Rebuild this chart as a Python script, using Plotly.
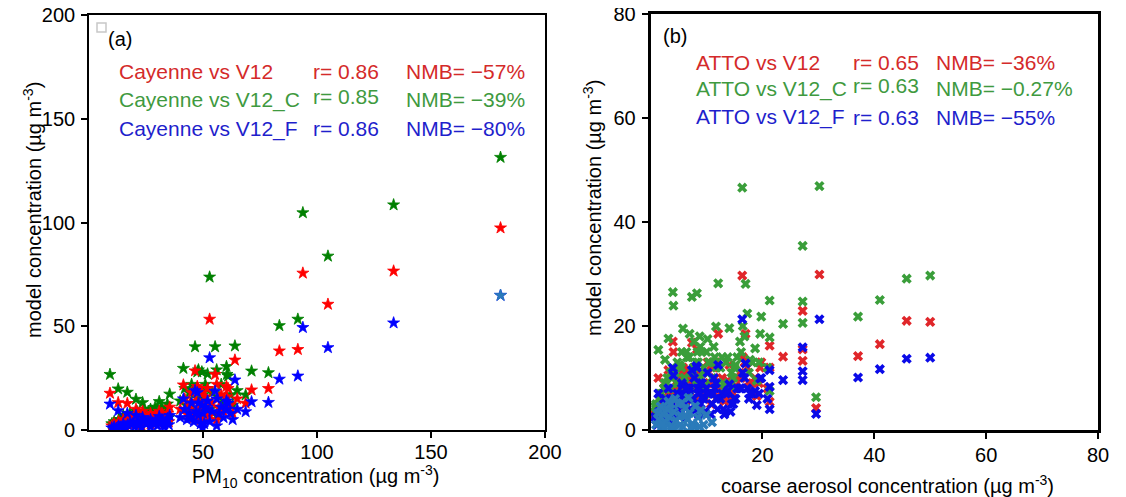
import plotly.graph_objects as go

# ---------------- Panel (a): Cayenne PM10 vs model ----------------
obs_a = [180.5, 133.6, 104.8, 93.8, 91.6, 83.5, 78.7, 71.3, 68.7, 64.0,
         52.9, 55.3, 46.5, 60.3, 60.5, 41.4, 48.0, 49.5, 9.2, 12.8,
         16.8, 20.6, 23.5, 30.8, 35.4, 34.4,
         10, 11, 13, 14, 15, 17, 18, 19, 21, 22, 24, 25, 26, 27, 28, 29, 31, 32, 33, 34, 35,
         12, 16, 20, 23, 27, 30, 33,
         40, 42, 43, 44, 45, 46, 47, 48, 49, 50, 50.5, 51, 52, 53, 54, 56, 57, 58, 59, 61,
         62, 63, 65, 49.8, 56, 44.5, 47.5, 51.5]
v12_a = [97.4, 76.6, 60.6, 75.6, 38.8, 38.1, 20.0, 19.3, 12.9, 33.7,
         53.4, 26.8, 28.5, 21.0, 16.0, 21.7, 20.0, 18.0, 17.7, 13.2,
         12.8, 10.0, 9.0, 9.0, 11.0, 8.0,
         2, 3, 4, 3, 5, 4, 6, 5, 6, 4, 7, 5, 6, 8, 6, 7, 6, 8, 5, 7, 4,
         1.5, 2, 3, 2.5, 3, 4, 3,
         10, 15, 8, 12, 18, 6, 14, 10, 5, 12, 8, 16, 20, 7, 13, 22, 11, 17, 9, 20,
         12, 8, 15, 4, 5, 9, 21, 14]
v12c_a = [131.4, 108.5, 83.8, 104.7, 53.4, 50.3, 27.6, 28.4, 16.9, 40.5,
          73.7, 40.1, 40.1, 30.6, 26.8, 29.7, 29.0, 28.0, 26.8, 19.8,
          18.2, 14.8, 13.2, 13.7, 17.3, 12.5,
          3, 4, 5, 5, 7, 6, 8, 7, 9, 7, 9, 8, 9, 10, 9, 11, 9, 11, 8, 10, 6,
          2.5, 3, 4, 4, 5, 6, 5,
          14, 20, 12, 18, 22, 9, 20, 15, 8, 17, 11, 22, 27, 10, 18, 29, 16, 22, 13, 26,
          17, 12, 19, 6, 7, 13, 28, 20]
v12f_a = [64.9, 51.6, 39.7, 49.4, 26.0, 24.5, 13.3, 13.6, 8.8, 24.1,
          34.8, 18.7, 19.0, 14.0, 10.0, 15.0, 13.0, 12.0, 12.5, 9.3,
          8.0, 7.0, 6.0, 6.5, 7.0, 5.5,
          1, 1.5, 2, 1.5, 3, 2.5, 3.5, 3, 4, 2.5, 4.5, 3, 4, 5, 3.5, 4, 3.5, 5, 3, 4.5, 2.5,
          0.8, 1, 1.5, 1.2, 1.5, 2, 1.5,
          6, 10, 5, 8, 13, 4, 9, 7, 3, 8, 3, 11, 14, 4, 9, 15, 8, 11, 6, 13,
          8, 5, 10, 1, 2, 6, 18, 10]
extra_a_x = [180.5]
extra_a_y = [64.9]

# ---------------- Panel (b): ATTO coarse aerosol vs model ----------------
obs_b = [16.4, 30.2, 27.2, 45.8, 50.0, 41.0, 37.1, 23.7, 27.2, 27.2,
         29.6, 21.3, 21.3, 21.3, 19.8, 17.3, 16.5,
         4.0, 4.1, 7.4, 8.3, 12.1, 17.0, 11.7, 14.1, 5.8, 7.0, 8.8, 3.2,
         19.6, 16.0, 18.7, 1.4, 2.6, 2.4, 10.0, 8.2, 17.6, 19.0,
         1.0, 1.5, 2.0, 2.5, 3.0, 3.5, 4.5, 5.0, 5.5, 6.0, 6.5, 7.5, 8.0, 8.5, 9.0,
         9.5, 10.5, 11.0, 11.5, 12.5, 13.0, 13.5, 14.5, 15.0, 15.5,
         1.2, 2.2, 3.3, 4.3, 5.3, 6.3, 7.3, 8.6, 9.7, 10.8, 12.0, 13.2, 14.3,
         2.8, 3.8, 4.8, 5.6, 6.8, 7.8, 9.2, 10.2, 11.3, 12.8, 16.8, 18.2,
         0.8, 1.8, 2.9, 3.6, 4.7, 5.2, 6.1, 6.9, 7.7, 8.4, 9.4, 10.4, 11.8, 13.8, 15.2,
         16.2, 17.8, 1.6, 3.9, 6.4, 8.9, 11.2, 14.8, 19.4, 20.9]
v12_b = [29.7, 29.9, 22.9, 21.0, 20.8, 16.5, 14.2, 14.1, 15.5, 13.3,
         4.2, 16.2, 12.0, 5.4, 13.0, 12.0, 14.0,
         17.0, 15.0, 16.8, 15.5, 18.5, 18.5, 13.0, 12.5, 12.0, 11.5, 11.0, 11.5,
         12.0, 11.0, 10.0, 10.0, 9.0, 8.0, 11.5, 9.0, 8.3, 6.5,
         3, 5, 4, 6, 7, 5, 8, 6, 9, 7, 10, 8, 6, 9, 7,
         8, 9, 7, 10, 8, 6, 9, 7, 8, 10,
         2, 3, 3.5, 4, 5, 4.5, 6, 5, 6, 5, 6.5, 5.5, 6,
         6, 7, 9.5, 11, 10.5, 12, 11, 13, 12, 10, 13, 9,
         3, 4, 6, 7.5, 6, 8.5, 7, 9.5, 8, 10, 7.5, 9, 8, 9.5, 8.5,
         10, 9, 5, 8, 10, 11, 9, 7, 9, 8]
v12c_b = [46.6, 46.9, 35.4, 29.1, 29.7, 25.0, 21.8, 20.4, 24.7, 20.6,
          6.3, 24.9, 17.8, 7.5, 21.8, 22.4, 20.0,
          26.5, 23.9, 25.6, 26.3, 28.2, 28.1, 19.9, 19.6, 19.5, 18.5, 18.0, 17.6,
          18.5, 17.0, 15.7, 15.4, 13.5, 8.0, 15.0, 13.0, 11.0, 9.5,
          5, 6, 7, 9, 10, 8, 11, 9, 12, 10, 14, 11, 9, 13, 10,
          12, 13, 10, 14, 12, 9, 13, 11, 12, 14,
          3, 4, 5, 6, 7, 6.5, 8, 7, 8.5, 7, 9, 8, 8.5,
          8, 10, 13, 15, 14, 17, 15, 17.5, 16, 14, 18, 13,
          4.5, 6, 9, 11, 9, 12.5, 10, 14, 12, 15, 11, 13, 12, 14, 12.5,
          15, 13.5, 7, 12, 15, 16, 13, 10, 13, 12]
v12f_b = [21.3, 21.3, 15.9, 13.7, 13.9, 11.7, 10.1, 9.6, 11.3, 9.6,
          3.1, 11.5, 8.3, 4.0, 10.0, 8.0, 11.0,
          11.9, 10.5, 11.5, 12.0, 12.5, 12.8, 9.0, 8.8, 8.5, 8.0, 8.0, 8.0,
          9.9, 8.0, 7.5, 7.0, 6.0, 5.0, 8.0, 12.3, 6.0, 4.8,
          2, 3.5, 3, 4, 5, 3.5, 6, 4, 7, 5, 8, 6, 4, 7, 5,
          6, 7, 5, 8, 6, 4, 7, 5, 6, 8,
          1, 1.5, 2, 2.5, 3, 2.5, 4, 3, 3.5, 3, 4, 3, 3.5,
          4, 5, 7, 9, 8, 10, 9, 11, 10, 7, 10, 7,
          2.5, 3, 4.5, 5.5, 4, 6.5, 5, 7.5, 6, 8, 6.5, 7, 6, 7.5, 6,
          8, 7, 3.5, 6, 8, 9, 7, 5, 7, 6]
extra_b_x = [1.0, 1.5, 2.0, 2.3, 2.7, 3.0, 3.4, 3.8, 4.2, 4.6, 5.0, 5.4, 5.8, 6.2,
             6.6, 7.0, 7.5, 8.0, 8.5, 9.0, 9.5, 10.0, 1.8, 3.2, 4.4, 5.6, 6.8, 2.5,
             4.0, 7.8, 11.0, 1.3, 2.1, 3.6, 5.2, 6.0, 7.2, 8.8]
extra_b_y = [1.0, 2.0, 0.5, 3.0, 1.5, 4.0, 2.5, 0.8, 3.5, 1.8, 5.0, 2.8, 0.6, 4.2,
             2.0, 3.3, 1.2, 4.6, 2.4, 3.8, 1.0, 2.9, 4.5, 5.5, 6.0, 5.2, 6.2, 0.3,
             0.4, 0.7, 1.5, 3.2, 1.2, 5.0, 0.9, 2.6, 0.4, 0.6]

C_RED_A, C_GRN_A, C_BLU_A = "#ff0000", "#008000", "#0000ff"
C_RED_B, C_GRN_B, C_BLU_B = "#e0262a", "#3a9e3a", "#0a0ae8"
C_STEEL = "#2b7bba"
T_RED, T_GRN, T_BLU = "#d42a2a", "#3f9a3f", "#1f1fcc"

# page body has an 8px margin; the figure fills the rest of the 1126x497 window
OFF = 8
W, H = 1126 - OFF, 497 - OFF
def px(x):
    return (x - OFF) / W
def py(y):
    return 1 - (y - OFF) / H

fig = go.Figure()
star = dict(symbol="star", size=9, line=dict(width=0.8))
fig.add_trace(go.Scatter(x=obs_a, y=v12c_a, mode="markers", marker=dict(color=C_GRN_A, **star), xaxis="x", yaxis="y"))
fig.add_trace(go.Scatter(x=obs_a, y=v12_a, mode="markers", marker=dict(color=C_RED_A, **star), xaxis="x", yaxis="y"))
fig.add_trace(go.Scatter(x=obs_a, y=v12f_a, mode="markers", marker=dict(color=C_BLU_A, **star), xaxis="x", yaxis="y"))
fig.add_trace(go.Scatter(x=extra_a_x, y=extra_a_y, mode="markers", marker=dict(color=C_STEEL, **star), xaxis="x", yaxis="y"))
for tr, c in zip(fig.data, [C_GRN_A, C_RED_A, C_BLU_A, C_STEEL]):
    tr.marker.line.color = c

xm = dict(symbol="x", size=9, line=dict(width=0))
fig.add_trace(go.Scatter(x=obs_b, y=v12_b, mode="markers", marker=dict(color=C_RED_B, **xm), xaxis="x2", yaxis="y2"))
fig.add_trace(go.Scatter(x=obs_b, y=v12c_b, mode="markers", marker=dict(color=C_GRN_B, **xm), xaxis="x2", yaxis="y2"))
fig.add_trace(go.Scatter(x=obs_b, y=v12f_b, mode="markers", marker=dict(color=C_BLU_B, **xm), xaxis="x2", yaxis="y2"))
fig.add_trace(go.Scatter(x=extra_b_x, y=extra_b_y, mode="markers", marker=dict(color=C_STEEL, **xm), xaxis="x2", yaxis="y2"))

FONT = "Liberation Sans, Arial, Helvetica, sans-serif"
tickfont = dict(family=FONT, size=20, color="black")

def axis(domain, rng, tickvals, lw, anchor, standoff):
    return dict(domain=domain, range=rng, tickvals=tickvals, showgrid=False, zeroline=False,
                showline=True, linecolor="black", linewidth=lw, mirror=True,
                ticks="outside", ticklen=6, tickwidth=1.5, tickcolor="black",
                tickfont=tickfont, anchor=anchor, fixedrange=True, automargin=False,
                ticklabelstandoff=standoff, ticklabeloverflow="allow")

fig.update_layout(
    width=W, height=H, margin=dict(l=0, r=0, t=0, b=0, pad=0), autosize=False,
    paper_bgcolor="white", plot_bgcolor="white", showlegend=False,
    xaxis=axis([px(89), px(545)], [0, 200], [50, 100, 150, 200], 1.7, "y", -3),
    yaxis=axis([py(430), py(15)], [0, 200], [0, 50, 100, 150, 200], 1.7, "x", 2),
    xaxis2=axis([px(650.5), px(1098)], [0, 80], [20, 40, 60, 80], 2.5, "y2", -1),
    yaxis2=axis([py(430), py(14)], [0, 80], [0, 20, 40, 60, 80], 2.5, "x2", 2),
)

ann = []
def add_text(text, x, y, color="black", size=20, xanchor="left", angle=0):
    ann.append(dict(text=text, x=px(x), y=py(y), xref="paper", yref="paper",
                    xanchor=xanchor, yanchor="middle", showarrow=False, textangle=angle,
                    font=dict(family=FONT, size=size, color=color)))

# axis titles
add_text("model concentration (µg m<sup>-3</sup>)", 32, 210, xanchor="center", angle=-90)
add_text("model concentration (µg m<sup>-3</sup>)", 592, 208, xanchor="center", angle=-90)
add_text("PM<sub>10</sub> concentration (µg m<sup>-3</sup>)", 316, 476, xanchor="center")
add_text("coarse aerosol concentration (µg m<sup>-3</sup>)", 887, 484, xanchor="center")

# panel (a) statistics
add_text("(a)", 106, 39)
rows_a = [("Cayenne vs V12", "r= 0.86", "NMB= −57%", T_RED, 71, 71),
          ("Cayenne vs V12_C", "r= 0.85", "NMB= −39%", T_GRN, 100, 96),
          ("Cayenne vs V12_F", "r= 0.86", "NMB= −80%", T_BLU, 129, 129)]
for lab, r, nmb, col, yl, yr in rows_a:
    add_text(lab, 117, yl, col, size=21)
    add_text(r, 311, yr, col, size=21)
    add_text(nmb, 404, yl, col, size=21)

# panel (b) statistics
add_text("(b)", 661, 36)
rows_b = [("ATTO vs V12", "r= 0.65", "NMB= −36%", T_RED, 62, 62),
          ("ATTO vs V12_C", "r= 0.63", "NMB= −0.27%", T_GRN, 89, 86),
          ("ATTO vs V12_F", "r= 0.63", "NMB= −55%", T_BLU, 117, 117)]
for lab, r, nmb, col, yl, yr in rows_b:
    add_text(lab, 694, yl, col, size=21)
    add_text(r, 851, yr, col, size=21)
    add_text(nmb, 934, yl, col, size=21)

fig.update_layout(annotations=ann)

# small empty legend box in panel (a)
fig.add_shape(type="rect", xref="paper", yref="paper",
              x0=px(97), x1=px(106), y0=py(32), y1=py(23),
              line=dict(color="#c8c8c8", width=1.5), fillcolor="white")

fig.write_html("out.html")
